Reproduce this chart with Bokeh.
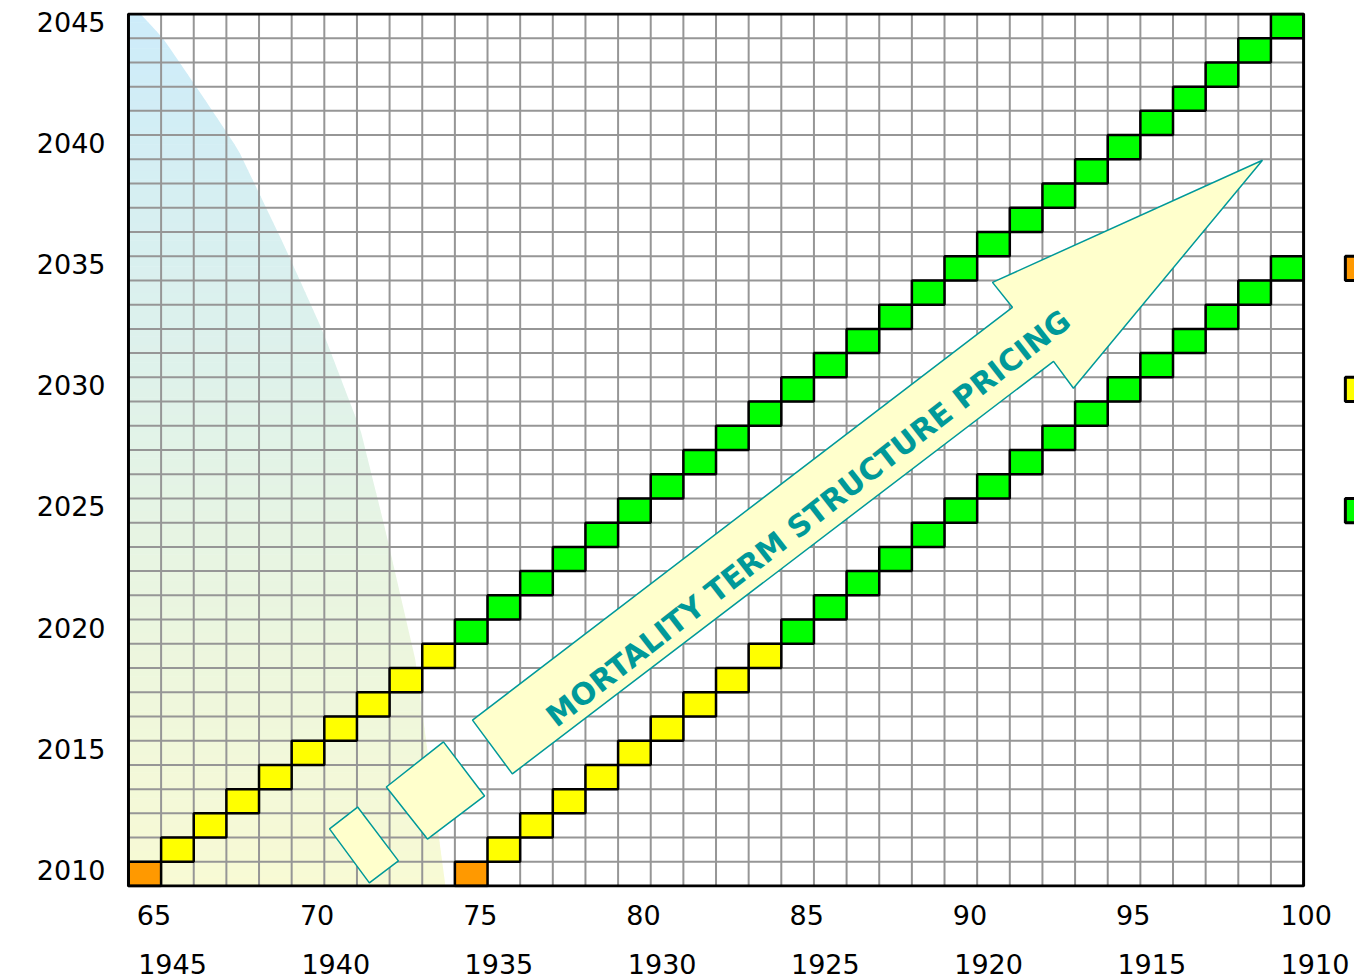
import numpy as np
from bokeh.plotting import figure
from bokeh.models import Range1d, FixedTicker, LinearAxis, CustomJSTickFormatter
from bokeh.core.properties import value
from bokeh.embed import file_html
from bokeh.resources import INLINE

# ---------------- data ----------------
ages = list(range(65, 101))            # columns (age)
years = list(range(2010, 2046))        # rows (calendar year)
age_ticks = [65, 70, 75, 80, 85, 90, 95, 100]
age_labels = ["65", "70", "75", "80", "85", "90", "95", "100"]
birth_labels = ["1945", "1940", "1935", "1930", "1925", "1920", "1915", "1910"]
year_ticks = [2010, 2015, 2020, 2025, 2030, 2035, 2040, 2045]
year_labels = ["2010", "2015", "2020", "2025", "2030", "2035", "2040", "2045"]

cohort_ages_2010 = [65, 75]
phase_by_year = ["orange"] * 1 + ["yellow"] * 9 + ["green"] * 26   # 2010 .. 2045
phase_colors = {"orange": "#FF9900", "yellow": "#FFFF00", "green": "#00FF00"}

legend_phases = ["orange", "yellow", "green"]
legend_years = [2035, 2030, 2025]

arrow_text = "MORTALITY  TERM  STRUCTURE PRICING"

# decorative shapes (data units)
arrow_x = [75.04, 91.58, 90.97, 99.24, 93.45, 92.84, 76.26]
arrow_y = [2016.35, 2033.39, 2034.42, 2039.46, 2030.05, 2031.16, 2014.13]
box_a_x = [74.15, 75.41, 73.66, 72.40]
box_a_y = [2015.45, 2013.22, 2011.44, 2013.59]
box_b_x = [71.52, 72.77, 71.88, 70.66]
box_b_y = [2012.76, 2010.54, 2009.63, 2011.86]

# background shaded region boundary
edge_y = [2045.5, 2044.53, 2041.93, 2039.87, 2036.0, 2032.44, 2028.32, 2024.19, 2018.83, 2009.5]
edge_x = [64.87, 65.54, 66.86, 67.87, 69.25, 70.44, 71.61, 72.37, 73.29, 74.21]
top_rgb = (205, 236, 250)
bottom_rgb = (248, 250, 212)

X0, X1 = ages[0] - 0.5, ages[-1] + 0.5
Y0, Y1 = years[0] - 0.5, years[-1] + 0.5

p = figure(width=1354, height=980, x_range=Range1d(64.44, 102.06), y_range=Range1d(2009.44, 2045.56),
           output_backend="svg", toolbar_location=None,
           min_border_left=126, min_border_right=0, min_border_top=12, min_border_bottom=93)
p.xgrid.visible = False
p.ygrid.visible = False
p.outline_line_color = None
p.background_fill_color = "white"

# gradient shaded region
ey = np.array(edge_y[::-1]); ex = np.array(edge_x[::-1])
n = 100
ys = np.linspace(Y0, Y1, n + 1)
xs_list, ys_list, cols = [], [], []
for i in range(n):
    ya, yb = ys[i], min(ys[i + 1] + 0.02, Y1)
    xa, xb = np.interp(ya, ey, ex), np.interp(yb, ey, ex)
    xs_list.append([X0, xa, xb, X0]); ys_list.append([ya, ya, yb, yb])
    f = ((ya + ys[i + 1]) / 2 - Y0) / (Y1 - Y0)
    c = tuple(int(round(bottom_rgb[k] + (top_rgb[k] - bottom_rgb[k]) * f)) for k in range(3))
    cols.append("#%02x%02x%02x" % c)
p.patches(xs_list, ys_list, fill_color=cols, line_color=None)

# grid lines
vx = [a - 0.5 for a in ages[1:]]
p.segment(x0=vx, y0=[Y0] * len(vx), x1=vx, y1=[Y1] * len(vx), line_color="#969696", line_width=2)
hy = [y - 0.5 for y in years[1:]]
p.segment(x0=[X0] * len(hy), y0=hy, x1=[X1] * len(hy), y1=hy, line_color="#969696", line_width=2)

# cohort cells
cx, cy, cc = [], [], []
for a0 in cohort_ages_2010:
    for y, ph in zip(years, phase_by_year):
        a = a0 + (y - years[0])
        if a <= ages[-1]:
            cx.append(a); cy.append(y); cc.append(phase_colors[ph])
p.rect(x=cx, y=cy, width=1, height=1, fill_color=cc, line_color="black", line_width=2.5)

# chart frame
p.quad(left=[X0], right=[X1], bottom=[Y0], top=[Y1], fill_color=None, line_color="black", line_width=3)

# arrow + boxes
for xs_, ys_ in [(box_b_x, box_b_y), (box_a_x, box_a_y), (arrow_x, arrow_y)]:
    p.patch(xs_, ys_, fill_color="#FFFFCC", line_color="#009999", line_width=1.5)
p.text(x=[85.58], y=[2024.95], text=[arrow_text], angle=np.deg2rad(38.0),
       text_align="center", text_baseline="middle", text_color="#009999",
       text_font=value("DejaVu Sans"), text_font_style="bold", text_font_size="30px")

# legend markers (cut at window edge)
lx = 101.78
p.quad(left=[lx] * 3, right=[lx + 2] * 3, bottom=[y - 0.5 for y in legend_years],
       top=[y + 0.5 for y in legend_years], fill_color=[phase_colors[k] for k in legend_phases],
       line_color="black", line_width=3)

# axes
FONT = "DejaVu Sans"
def style(ax, size="27px"):
    ax.axis_line_color = None
    ax.major_tick_line_color = None
    ax.minor_tick_line_color = None
    ax.major_tick_out = 0
    ax.major_tick_in = 0
    ax.major_label_text_font = FONT
    ax.major_label_text_font_size = size
    ax.major_label_text_color = "black"

ax1 = p.xaxis[0]
ax1.ticker = FixedTicker(ticks=[65.28, 70.28, 75.28, 80.28, 85.28, 90.28, 95.28, 100.58])
ax1.formatter = CustomJSTickFormatter(args=dict(labels=age_labels), code="return labels[index];")
style(ax1)
ax1.major_label_standoff = 17

ax2 = LinearAxis(ticker=FixedTicker(ticks=[65.85, 70.85, 75.85, 80.85, 85.85, 90.85, 95.85, 100.85]),
                 formatter=CustomJSTickFormatter(args=dict(labels=birth_labels), code="return labels[index];"))
style(ax2)
ax2.major_label_standoff = 26
p.add_layout(ax2, "below")

ay = p.yaxis[0]
ay.ticker = FixedTicker(ticks=[y + 0.17 for y in year_ticks])
ay.formatter = CustomJSTickFormatter(args=dict(labels=year_labels), code="return labels[index];")
style(ay)
ay.major_label_standoff = 21

open("out.html", "w").write(file_html(p, INLINE))
